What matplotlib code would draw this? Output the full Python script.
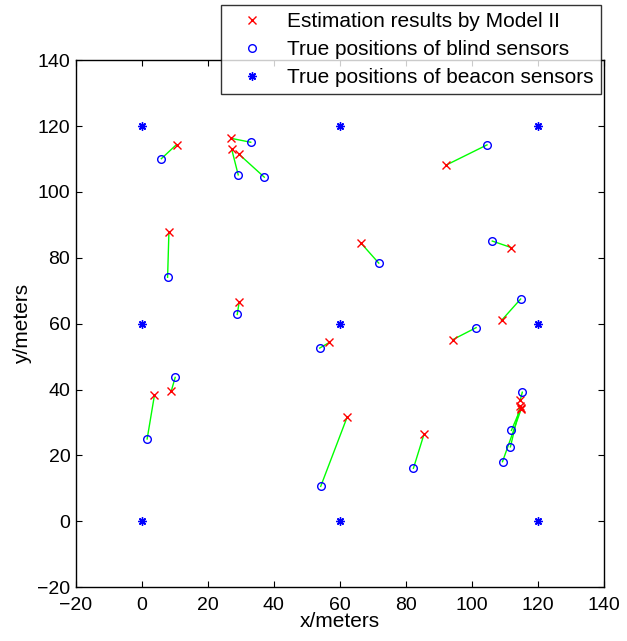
import matplotlib
matplotlib.use("Agg")
import matplotlib.pyplot as plt

plt.rcParams['font.family'] = ['Liberation Sans', 'DejaVu Sans']

# beacon sensors (true positions)
beacon_x = [0, 60, 120, 0, 60, 120, 0, 60, 120]
beacon_y = [0, 0, 0, 60, 60, 60, 120, 120, 120]

# blind sensors: true positions
true_x = [5.9, 33.0, 29.2, 37.1, 104.6, 7.8, 28.9, 71.8, 53.9, 106.2, 114.8,
          101.3, 10.1, 1.6, 54.2, 82.3, 115.3, 112.0, 111.7, 109.3]
true_y = [110.1, 115.1, 105.2, 104.5, 114.3, 74.1, 62.8, 78.4, 52.6, 85.1, 67.5,
          58.8, 43.7, 25.0, 10.6, 16.1, 39.2, 27.6, 22.6, 18.1]

# blind sensors: estimates by Model II
est_x = [10.5, 27.0, 27.2, 29.4, 92.3, 8.2, 29.5, 66.3, 56.8, 112.0, 109.0,
         94.3, 8.9, 3.8, 62.2, 85.5, 114.7, 114.9, 114.6, 115.0]
est_y = [114.4, 116.3, 113.1, 111.5, 108.2, 87.8, 66.6, 84.6, 54.3, 83.1, 61.0,
         55.2, 39.5, 38.2, 31.6, 26.4, 36.9, 34.5, 34.9, 34.2]

fig = plt.figure(figsize=(6.27, 6.41), dpi=100)
ax = fig.add_axes([0.121, 0.084, 0.842, 0.822])

# error segments
for tx, ty, ex, ey in zip(true_x, true_y, est_x, est_y):
    ax.plot([tx, ex], [ty, ey], color='#00ff00', lw=1.0, zorder=1)

h_est, = ax.plot(est_x, est_y, 'x', color='red', ms=5.5, mew=1.0, ls='none',
                 label='Estimation results by Model II', zorder=3)
h_true, = ax.plot(true_x, true_y, 'o', mfc='none', mec='blue', ms=5.5, mew=1.0,
                  ls='none', label='True positions of blind sensors', zorder=3)
h_beacon, = ax.plot(beacon_x, beacon_y, marker=(8, 2, 0), color='blue', ms=6,
                    mew=1.0, ls='none', label='True positions of beacon sensors',
                    zorder=3)

ax.set_xlim(-20, 140)
ax.set_ylim(-20, 140)
ax.set_xticks(range(-20, 141, 20))
ax.set_yticks(range(-20, 141, 20))
ax.tick_params(direction='in', top=True, right=True, labelsize=14, length=4)
ax.tick_params(axis='x', pad=7)
ax.tick_params(axis='y', pad=4)
for s in ax.spines.values():
    s.set_linewidth(1.0)
ax.set_xlabel('x/meters', fontsize=15, labelpad=-1)
ax.set_ylabel('y/meters', fontsize=15, labelpad=4)

leg = fig.legend(handles=[h_est, h_true, h_beacon], loc='upper right',
                 bbox_to_anchor=(0.958, 0.992), fontsize=15, frameon=True,
                 fancybox=False, edgecolor='black', handlelength=2.3,
                 borderpad=0.35, labelspacing=0.42, handletextpad=0.5,
                 borderaxespad=0)
leg.get_frame().set_linewidth(1.0)

fig.savefig('out.png', dpi=100)
